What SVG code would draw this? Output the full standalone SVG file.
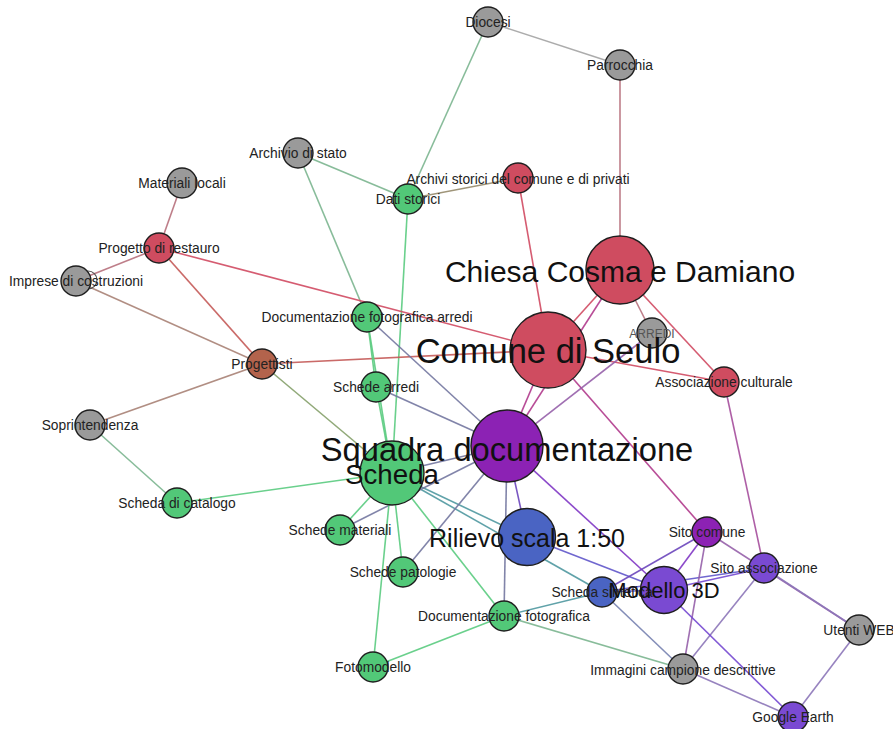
<svg xmlns="http://www.w3.org/2000/svg" width="893" height="729" viewBox="0 0 893 729">
<style>
.e{fill:none;stroke-width:1.6;stroke-opacity:0.9}
.gg{stroke:#a3a3a3}.gn{stroke:#7bb58f}.gr{stroke:#b7707c}.nr{stroke:#958a6a}.nn{stroke:#5acb80}
.rr{stroke:#d04a62}.rt{stroke:#c45a58}.gt{stroke:#a98275}.nt{stroke:#85a06a}.np{stroke:#7377a0}
.rp{stroke:#b03a8c}.pb{stroke:#6a45bb}.pv{stroke:#8036c4}.nb{stroke:#4f98a0}.bv{stroke:#6157ca}
.pg{stroke:#9660aa}.vg{stroke:#8c76b8}.bg{stroke:#7782b0}.rv{stroke:#a54e9c}.vv{stroke:#7448d0}
.n{stroke:#1e1e1e;stroke-width:1.4}
.g{fill:#9a9a9a}.r{fill:#cf4c60}.k{fill:#52c878}.p{fill:#8c22b4}.b{fill:#4a64c3}.v{fill:#7a4ad2}.t{fill:#b3634c}
.l{font-family:"Liberation Sans",Arial,sans-serif;font-size:13.8px;fill:#222;text-anchor:middle}
.L{font-family:"Liberation Sans",Arial,sans-serif;fill:#111;text-anchor:middle}
</style>
<rect width="893" height="729" fill="#fff"/>
<g id="edges">
<line class="e gg" x1="488" y1="22" x2="620" y2="65"/>
<line class="e gn" x1="488" y1="22" x2="408" y2="199"/>
<line class="e gr" x1="620" y1="65" x2="620" y2="270"/>
<line class="e gn" x1="298" y1="153" x2="408" y2="199"/>
<line class="e gn" x1="298" y1="153" x2="367" y2="317"/>
<line class="e nr" x1="408" y1="199" x2="518" y2="178"/>
<line class="e nn" x1="408" y1="199" x2="392" y2="473"/>
<line class="e rr" x1="518" y1="178" x2="548" y2="350"/>
<line class="e gr" x1="182" y1="183" x2="159" y2="248"/>
<line class="e gr" x1="159" y1="248" x2="76" y2="281"/>
<line class="e rr" x1="159" y1="248" x2="548" y2="350"/>
<line class="e rt" x1="159" y1="248" x2="262" y2="364"/>
<line class="e gt" x1="76" y1="281" x2="262" y2="364"/>
<line class="e gt" x1="262" y1="364" x2="90" y2="425"/>
<line class="e rt" x1="262" y1="364" x2="548" y2="350"/>
<line class="e nt" x1="262" y1="364" x2="392" y2="473"/>
<line class="e gn" x1="90" y1="425" x2="177" y2="503"/>
<line class="e nn" x1="177" y1="503" x2="392" y2="473"/>
<line class="e np" x1="367" y1="317" x2="507" y2="446"/>
<line class="e nn" x1="367" y1="317" x2="376" y2="387"/>
<line class="e nn" x1="367" y1="317" x2="392" y2="473"/>
<line class="e nn" x1="376" y1="387" x2="392" y2="473"/>
<line class="e np" x1="376" y1="387" x2="507" y2="446"/>
<line class="e rr" x1="620" y1="270" x2="548" y2="350"/>
<line class="e rp" x1="620" y1="270" x2="507" y2="446"/>
<line class="e rp" x1="548" y1="350" x2="507" y2="446"/>
<line class="e gr" x1="620" y1="270" x2="652" y2="333"/>
<line class="e rr" x1="620" y1="270" x2="724" y2="382"/>
<line class="e rr" x1="548" y1="350" x2="724" y2="382"/>
<line class="e rp" x1="548" y1="350" x2="707" y2="532"/>
<line class="e pg" x1="507" y1="446" x2="652" y2="333"/>
<line class="e pb" x1="507" y1="446" x2="527" y2="537"/>
<line class="e np" x1="507" y1="446" x2="504" y2="616"/>
<line class="e pv" x1="507" y1="446" x2="664" y2="590"/>
<line class="e np" x1="392" y1="473" x2="507" y2="446"/>
<line class="e nb" x1="392" y1="473" x2="527" y2="537"/>
<line class="e nb" x1="392" y1="473" x2="602" y2="592"/>
<line class="e nn" x1="392" y1="473" x2="340" y2="530"/>
<line class="e np" x1="340" y1="530" x2="507" y2="446"/>
<line class="e nn" x1="392" y1="473" x2="403" y2="572"/>
<line class="e np" x1="403" y1="572" x2="507" y2="446"/>
<line class="e nn" x1="392" y1="473" x2="504" y2="616"/>
<line class="e nn" x1="392" y1="473" x2="373" y2="667"/>
<line class="e nn" x1="373" y1="667" x2="504" y2="616"/>
<line class="e nb" x1="504" y1="616" x2="602" y2="592"/>
<line class="e gn" x1="504" y1="616" x2="683" y2="669"/>
<line class="e bv" x1="527" y1="537" x2="664" y2="590"/>
<line class="e pb" x1="602" y1="592" x2="707" y2="532"/>
<line class="e pv" x1="664" y1="590" x2="707" y2="532"/>
<line class="e vv" x1="664" y1="590" x2="764" y2="568"/>
<line class="e bv" x1="602" y1="592" x2="764" y2="568"/>
<line class="e bv" x1="602" y1="592" x2="664" y2="590"/>
<line class="e pg" x1="707" y1="532" x2="683" y2="669"/>
<line class="e pg" x1="707" y1="532" x2="859" y2="630"/>
<line class="e vg" x1="764" y1="568" x2="859" y2="630"/>
<line class="e vg" x1="764" y1="568" x2="683" y2="669"/>
<line class="e rv" x1="764" y1="568" x2="724" y2="382"/>
<line class="e vv" x1="664" y1="590" x2="793" y2="717"/>
<line class="e bg" x1="602" y1="592" x2="683" y2="669"/>
<line class="e vg" x1="683" y1="669" x2="793" y2="717"/>
<line class="e vg" x1="859" y1="630" x2="793" y2="717"/>
<circle cx="88" cy="280" r="9" fill="none" stroke="#555" stroke-width="1.2"/>
</g>
<g id="n-diocesi"><circle class="n g" cx="488" cy="22" r="15"/></g>
<g id="n-parrocchia"><circle class="n g" cx="620" cy="65" r="15"/></g>
<g id="n-archivio-stato"><circle class="n g" cx="298" cy="153" r="15"/></g>
<g id="n-materiali-locali"><circle class="n g" cx="182" cy="183" r="15"/></g>
<g id="n-archivi-storici"><circle class="n r" cx="518" cy="178" r="15"/></g>
<g id="n-dati-storici"><circle class="n k" cx="408" cy="199" r="15"/></g>
<g id="n-progetto-restauro"><circle class="n r" cx="159" cy="248" r="15"/></g>
<g id="n-imprese"><circle class="n g" cx="76" cy="281" r="15"/></g>
<g id="n-chiesa"><circle class="n r" cx="620" cy="270" r="34"/></g>
<g id="n-doc-fot-arredi"><circle class="n k" cx="367" cy="317" r="15"/></g>
<g id="n-arredi"><circle class="n g" cx="652" cy="333" r="15"/></g>
<g id="n-comune"><circle class="n r" cx="548" cy="350" r="38"/></g>
<g id="n-progettisti"><circle class="n t" cx="262" cy="364" r="15"/></g>
<g id="n-associazione"><circle class="n r" cx="724" cy="382" r="15"/></g>
<g id="n-schede-arredi"><circle class="n k" cx="376" cy="387" r="15"/></g>
<g id="n-soprintendenza"><circle class="n g" cx="90" cy="425" r="15"/></g>
<g id="n-squadra"><circle class="n p" cx="507" cy="446" r="36"/></g>
<g id="n-scheda"><circle class="n k" cx="392" cy="473" r="32"/></g>
<g id="n-scheda-catalogo"><circle class="n k" cx="177" cy="503" r="15"/></g>
<g id="n-schede-materiali"><circle class="n k" cx="340" cy="530" r="15"/></g>
<g id="n-sito-comune"><circle class="n p" cx="707" cy="532" r="15"/></g>
<g id="n-rilievo"><circle class="n b" cx="527" cy="537" r="28.5"/></g>
<g id="n-sito-associazione"><circle class="n v" cx="764" cy="568" r="15"/></g>
<g id="n-schede-patologie"><circle class="n k" cx="403" cy="572" r="15"/></g>
<g id="n-modello"><circle class="n v" cx="664" cy="590" r="23.5"/></g>
<g id="n-scheda-sintetica"><circle class="n b" cx="602" cy="592" r="15"/></g>
<g id="n-doc-fotografica"><circle class="n k" cx="504" cy="616" r="15"/></g>
<g id="n-utenti-web"><circle class="n g" cx="859" cy="630" r="15"/></g>
<g id="n-fotomodello"><circle class="n k" cx="373" cy="667" r="15"/></g>
<g id="n-immagini"><circle class="n g" cx="683" cy="669" r="15"/></g>
<g id="n-google-earth"><circle class="n v" cx="793" cy="717" r="15"/></g>
<g id="labels">
<text class="l" x="488" y="27">Diocesi</text>
<text class="l" x="620" y="70">Parrocchia</text>
<text class="l" x="298" y="158">Archivio di stato</text>
<text class="l" x="182" y="188">Materiali locali</text>
<text class="l" x="518" y="184">Archivi storici del comune e di privati</text>
<text class="l" x="408" y="204">Dati storici</text>
<text class="l" x="159" y="253">Progetto di restauro</text>
<text class="l" x="76" y="286">Imprese di costruzioni</text>
<text class="l" x="367" y="322">Documentazione fotografica arredi</text>
<text class="l" x="652" y="338" style="font-size:12px;fill:#555">ARREDI</text>
<text class="l" x="262" y="369">Progettisti</text>
<text class="l" x="724" y="387">Associazione culturale</text>
<text class="l" x="376" y="392">Schede arredi</text>
<text class="l" x="90" y="430">Soprintendenza</text>
<text class="l" x="177" y="508">Scheda di catalogo</text>
<text class="l" x="340" y="535">Schede materiali</text>
<text class="l" x="707" y="537">Sito comune</text>
<text class="l" x="764" y="573">Sito associazione</text>
<text class="l" x="403" y="577">Schede patologie</text>
<text class="l" x="602" y="597">Scheda sintetica</text>
<text class="l" x="504" y="621">Documentazione fotografica</text>
<text class="l" x="859" y="635">Utenti WEB</text>
<text class="l" x="373" y="672">Fotomodello</text>
<text class="l" x="683" y="675">Immagini campione descrittive</text>
<text class="l" x="793" y="722">Google Earth</text>
<text class="L" x="620" y="282" style="font-size:30px">Chiesa Cosma e Damiano</text>
<text class="L" x="548" y="363" style="font-size:34.5px">Comune di Seulo</text>
<text class="L" x="507" y="461" style="font-size:32.7px">Squadra documentazione</text>
<text class="L" x="392" y="484" style="font-size:27.7px">Scheda</text>
<text class="L" x="527" y="547" style="font-size:25px">Rilievo scala 1:50</text>
<text class="L" x="664" y="598" style="font-size:22px">Modello 3D</text>
</g>
</svg>
